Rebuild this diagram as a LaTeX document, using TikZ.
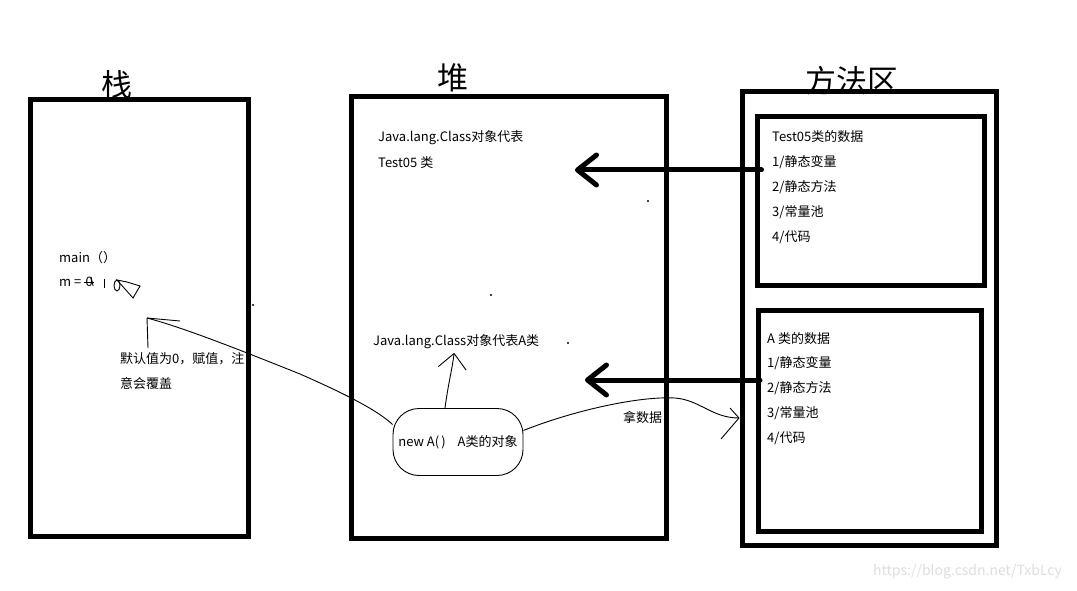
\documentclass[tikz,border=0pt]{standalone}
\usepackage{fontspec}
\setmainfont{Noto Sans CJK SC}
\usepackage{tikz}
\usetikzlibrary{arrows.meta,positioning}
\definecolor{ink}{HTML}{000000}
\definecolor{faint}{HTML}{DEDEDE}
\tikzset{
  region/.style={draw=ink,line width=5pt,inner sep=0pt},
  title/.style={font=\fontsize{31}{31}\selectfont,text=ink,inner sep=0pt},
  lbl/.style={font=\fontsize{13}{15}\selectfont,text=ink,anchor=west,inner sep=0pt},
  objbox/.style={draw=ink,line width=0.9pt,rounded corners=26pt,inner sep=0pt,minimum width=130pt,minimum height=67pt,font=\fontsize{13}{15}\selectfont},
  pen/.style={line width=0.9pt,color=ink},
  penarrow/.style={pen,-{Straight Barb[length=15pt,width=28pt]}},
  bigarrow/.style={-{Straight Barb[length=19pt,width=30pt,round]},line width=5pt,color=ink,line cap=round},
}
\begin{document}
\begin{tikzpicture}[x=1pt,y=-1pt]
    \useasboundingbox[fill=white] (0,0) rectangle (1077,591);
    % memory areas
    \node[region,minimum width=218.5pt,minimum height=436pt] (stack) at (139.25,318) {};
    \node[region,minimum width=314.5pt,minimum height=441pt] (heap) at (508.75,317.5) {};
    \node[region,minimum width=253.5pt,minimum height=454pt] (method) at (869.25,318.5) {};
    \node[region,minimum width=227.5pt,minimum height=169pt] (data1) at (870.75,201) {};
    \node[region,minimum width=223pt,minimum height=221pt] (data2) at (870,421) {};
    \node[title] (stackname) at (117,85) {栈};
    \node[title] (heapname) at (453,78) {堆};
    \node[title] (methodname) at (852,81) {方法区};
    % stack
    \node[lbl] (mainfn) at (59,258) {main（）};
    \node[lbl] (mval) at (59,282) {m =\,\,0};
    \node[lbl] (note1) at (120,359) {默认值为0，赋值，注};
    \node[lbl] (note2) at (120,384) {意会覆盖};
    % heap
    \node[lbl] (cls1) at (378,137.5) {Java.lang.Class对象代表};
    \node[lbl] (cls1b) at (378,162.5) {Test05 类};
    \node[lbl] (clsA) at (373,342) {Java.lang.Class对象代表A类};
    \node[objbox] (obj) at (458,442) {new A(\,)\hspace{12pt}A类的对象};
    % method area
    \foreach \t [count=\i from 0] in {{Test05类的数据},{1/静态变量},{2/静态方法},{3/常量池},{4/代码}}
      \node[lbl] (d1-\i) at (772,137+25*\i) {\t};
    \foreach \t [count=\i from 0] in {{A 类的数据},{1/静态变量},{2/静态方法},{3/常量池},{4/代码}}
      \node[lbl] (d2-\i) at (767,338.5+25*\i) {\t};
    % thick arrows
    \coordinate (tip1) at (575,170);
    \coordinate (tip2) at (585,380);
    \draw[bigarrow] (data1.west |- tip1) ++(7,0) -- (tip1);
    \draw[bigarrow] (data2.west |- tip2) ++(4,0) -- (tip2);
    % pen strokes
    \draw[penarrow] ([xshift=-13pt]obj.north) .. controls (448,385) and (452,370) .. ([xshift=-2pt,yshift=-3.5pt]clsA.south);
    \coordinate (mtip) at (147,318);
    \draw[pen] (obj.165) .. controls (378,411) and (350,396) .. (300,374) .. controls (245,352) and (185,328) .. (mtip);
    \draw[pen] (mtip) -- ++(1,30);
    \draw[pen] (mtip) -- ++(33,3);
    \coordinate (dtip) at (739,418);
    \draw[pen] (obj.10) .. controls (575,410) and (640,396) .. (675,398) .. controls (700,400) and (712,418) .. (dtip);
    \draw[pen] (dtip) -- ++(-9,-10);
    \draw[pen] (dtip) -- ++(-18,21);
    \node[lbl] (fetch) at (623,417) {拿数据};
    \draw[pen] ([xshift=-9pt]mval.east) -- ([xshift=1pt]mval.east);
    \draw[pen] ([xshift=-2pt,yshift=5pt]mval.east) -- ([xshift=0pt,yshift=-4pt]mval.east);
    \draw[pen] (104,279) -- (104,288);
    \draw[pen] (117,285.5) ellipse [x radius=3, y radius=5.5];
    \draw[pen] (117,280) -- (127,282) -- (140,286) -- (133,298) -- cycle;
    \foreach \p in {(253,305),(491,295),(568,343),(648,201)} \fill[ink] \p circle[radius=1.1];
    \node[lbl,text=faint,font=\fontsize{14}{16}\selectfont] (mark) at (873,572) {https://blog.csdn.net/TxbLcy};
\end{tikzpicture}
\end{document}
